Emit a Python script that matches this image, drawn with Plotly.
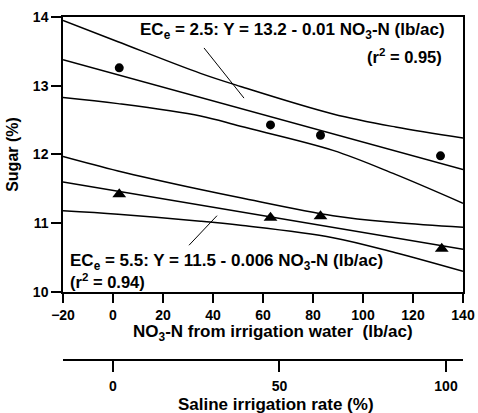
import plotly.graph_objects as go

no3_ec25 = [2.5, 63, 83, 131]
sugar_ec25 = [13.26, 12.43, 12.28, 11.98]
no3_ec55 = [2.5, 63, 83, 131.5]
sugar_ec55 = [11.42, 11.08, 11.10, 10.63]

# regression lines
fit_x = [-20, 140]
fit_ec25 = [13.38, 11.78]
fit_ec55 = [11.60, 10.62]

# confidence bands
band_x = [-20, 2, 35, 51, 88, 113, 140]
upper_ec25 = [13.95, 13.64, 13.18, 12.99, 12.59, 12.40, 12.24]
lower_ec25 = [12.83, 12.74, 12.56, 12.41, 12.06, 11.71, 11.29]
upper_ec55 = [11.97, 11.76, 11.49, 11.37, 11.11, 11.01, 10.94]
lower_ec55 = [11.18, 11.13, 11.03, 10.97, 10.79, 10.57, 10.30]

# secondary axis ticks
saline_ticks = [0, 50, 100]

FONT = "Liberation Sans"


def line_trace(x, y, shape='spline'):
    return go.Scatter(x=x, y=y, mode='lines',
                      line={'color': 'black', 'width': 1.5, 'shape': shape, 'smoothing': 1.0},
                      hoverinfo='skip', showlegend=False)


fig = go.Figure()

for band in [upper_ec25, lower_ec25, upper_ec55, lower_ec55]:
    fig.add_trace(line_trace(band_x, band))
fig.add_trace(line_trace(fit_x, fit_ec25, 'linear'))
fig.add_trace(line_trace(fit_x, fit_ec55, 'linear'))

fig.add_trace(go.Scatter(x=no3_ec25, y=sugar_ec25, mode='markers',
                         marker={'symbol': 'circle', 'size': 9, 'color': 'black'},
                         showlegend=False))
fig.add_trace(go.Scatter(x=no3_ec55, y=sugar_ec55, mode='markers',
                         marker={'symbol': 'triangle-up', 'size': 12, 'color': 'black'},
                         showlegend=False))

# dummy trace so the saline axis gets drawn
fig.add_trace(go.Scatter(x=saline_ticks, y=[10, 10, 10], xaxis='x2', mode='markers',
                         marker={'opacity': 0}, hoverinfo='skip', showlegend=False))

tick_font = {'family': FONT, 'size': 14, 'color': 'black', 'weight': 'bold'}
eq_font = {'family': FONT, 'size': 17, 'color': 'black'}
r2_font = {'family': FONT, 'size': 16.5, 'color': 'black'}
title_font = {'family': FONT, 'size': 17, 'color': 'black'}

fig.update_layout(
    width=478, height=413,
    margin={'l': 63, 'r': 15, 't': 17, 'b': 53, 'autoexpand': False},
    plot_bgcolor='white', paper_bgcolor='white',
    font={'family': FONT, 'color': 'black'},
    xaxis={
        'range': [-20, 140], 'dtick': 20, 'tick0': -20,
        'ticks': 'outside', 'ticklen': 9, 'tickwidth': 1.5, 'tickcolor': 'black',
        'showline': True, 'linecolor': 'black', 'linewidth': 1.5, 'mirror': True,
        'showgrid': False, 'zeroline': False, 'tickfont': tick_font,
        'anchor': 'y',
        },
    xaxis2={
        'range': [-15, 105.1], 'overlaying': 'x', 'anchor': 'free', 'position': 0,
        'side': 'bottom', 'tickvals': saline_ticks,
        'ticks': 'outside', 'ticklen': 11, 'tickwidth': 1.5, 'tickcolor': 'black',
        'showline': True, 'linecolor': 'black', 'linewidth': 1.5,
        'showgrid': False, 'zeroline': False, 'tickfont': tick_font,
        'ticklabelstandoff': 2,
        },
    yaxis={
        'range': [10, 14], 'dtick': 1, 'domain': [0.1983, 1],
        'ticks': 'outside', 'ticklen': 10, 'tickwidth': 1.5, 'tickcolor': 'black',
        'showline': True, 'linecolor': 'black', 'linewidth': 1.5, 'mirror': True,
        'showgrid': False, 'zeroline': False, 'tickfont': tick_font,
        'title': {'text': '<b>Sugar (%)</b>', 'font': {'family': FONT, 'size': 16, 'color': 'black'},
                  'standoff': 10},
        },
    shapes=[
        {'type': 'line', 'x0': 36.4, 'y0': 13.55, 'x1': 52.4, 'y1': 12.82,
         'line': {'color': 'black', 'width': 1}},
        {'type': 'line', 'x0': 30.4, 'y0': 10.68, 'x1': 41.6, 'y1': 11.11,
         'line': {'color': 'black', 'width': 1}},
        ],
    annotations=[
        {'x': 10, 'y': 13.80, 'xanchor': 'left', 'yanchor': 'middle', 'showarrow': False,
         'text': '<b>EC<sub>e</sub> = 2.5: Y = 13.2 - 0.01 NO<sub>3</sub>-N (lb/ac)</b>', 'font': eq_font},
        {'x': 132.4, 'y': 13.43, 'xanchor': 'right', 'yanchor': 'middle', 'showarrow': False,
         'text': '<b>(r<sup>2</sup> = 0.95)</b>', 'font': r2_font},
        {'x': -18, 'y': 10.44, 'xanchor': 'left', 'yanchor': 'middle', 'showarrow': False,
         'text': '<b>EC<sub>e</sub> = 5.5: Y = 11.5 - 0.006 NO<sub>3</sub>-N (lb/ac)</b>', 'font': eq_font},
        {'x': -18, 'y': 10.16, 'xanchor': 'left', 'yanchor': 'middle', 'showarrow': False,
         'text': '<b>(r<sup>2</sup> = 0.94)</b>', 'font': r2_font},
        {'x': 0.526, 'y': 0.0787, 'xref': 'paper', 'yref': 'paper', 'showarrow': False,
         'xanchor': 'center', 'yanchor': 'middle',
         'text': '<b>NO<sub>3</sub>-N from irrigation water  (lb/ac)</b>', 'font': title_font},
        {'x': 0.5325, 'y': -0.129, 'xref': 'paper', 'yref': 'paper', 'showarrow': False,
         'xanchor': 'center', 'yanchor': 'middle',
         'text': '<b>Saline irrigation rate (%)</b>', 'font': title_font},
        ],
    )

# drop the browser's default body margin so the figure sits at the window corner
fig.write_html("out.html", config={'displayModeBar': False},
               post_script="document.body.style.margin = '0';")
